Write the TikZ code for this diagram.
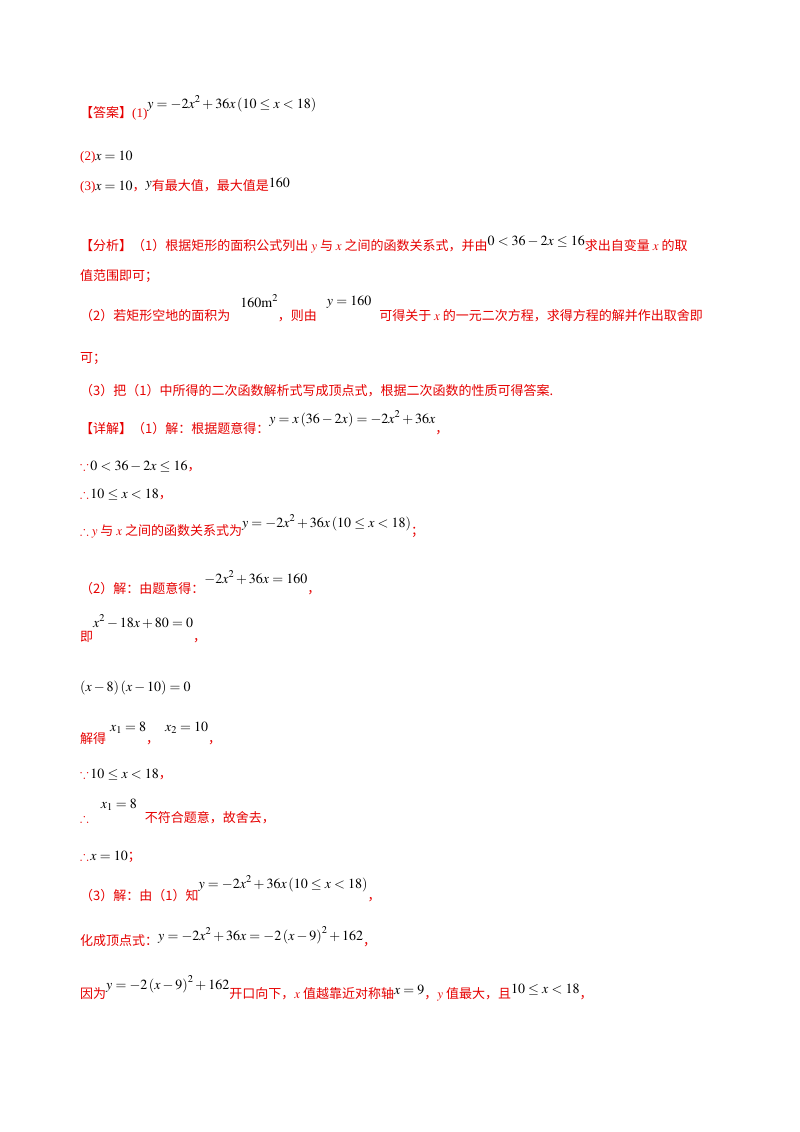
\documentclass[tikz,border=0pt]{standalone}
\usepackage{amssymb}
\usepackage{mathptmx}
\usepackage{fontspec}
\setmainfont{Liberation Serif}
\newfontfamily\cjk{Noto Sans CJK SC}
\definecolor{ansred}{RGB}{230,0,0}
\newcommand{\rd}[1]{\textcolor{ansred}{\cjk #1}}
\newcommand{\up}[2][8pt]{\raisebox{#1}{\fontsize{14}{16}\selectfont$#2$}}
\newcommand{\mth}[1]{{\fontsize{14}{16}\selectfont$#1$}}
\tikzset{ln/.style={anchor=base west,inner sep=0pt,font=\fontsize{13}{15}\selectfont}}
\begin{document}
\begin{tikzpicture}[x=1pt,y=1pt]
\useasboundingbox[fill=white] (0,0) rectangle (800,-1132);
\node[ln] (l1) at (80,-117) {\rd{【答案】}\textcolor{ansred}{(1)}\up[9pt]{y=-2x^2+36x\left(10\le x<18\right)}};
\node[ln] (l2) at (80,-160) {\textcolor{ansred}{(2)}\mth{x=10}};
\node[ln] (l3) at (80,-190) {\textcolor{ansred}{(3)}\mth{x=10}\rd{，}\up[3pt]{y}\rd{有最大值，最大值是}\up[3pt]{160}};
\node[ln] (l4) at (80,-250) {\rd{【分析】（1）根据矩形的面积公式列出 $y$ 与 $x$ 之间的函数关系式，并由}\up[5pt]{0<36-2x\le16}\rd{求出自变量 $x$ 的取}};
\node[ln] (l5) at (80,-280) {\rd{值范围即可；}};
\node[ln] (l6) at (80,-320) {\rd{（2）若矩形空地的面积为}\hspace{10pt}\up[13pt]{160\mathrm{m}^2}\rd{，则由}\hspace{10pt}\up[15pt]{y=160}\hspace{8pt}\rd{可得关于 $x$ 的一元二次方程，求得方程的解并作出取舍即}};
\node[ln] (l7) at (80,-362) {\rd{可；}};
\node[ln] (l8) at (80,-395) {\rd{（3）把（1）中所得的二次函数解析式写成顶点式，根据二次函数的性质可得答案.}};
\node[ln] (l9) at (80,-433) {\rd{【详解】（1）解：根据题意得：}\up[10pt]{y=x\left(36-2x\right)=-2x^2+36x}\rd{，}};
\node[ln] (l10) at (80,-470) {\textcolor{ansred}{$\because$}\mth{\,0<36-2x\le16}\rd{，}};
\node[ln] (l11) at (80,-498) {\textcolor{ansred}{$\therefore$}\mth{\,10\le x<18}\rd{，}};
\node[ln] (l12) at (80,-535) {\rd{$\therefore y$ 与 $x$ 之间的函数关系式为}\up[8pt]{y=-2x^2+36x\left(10\le x<18\right)}\rd{；}};
\node[ln] (l13) at (80,-593) {\rd{（2）解：由题意得：}\up[10pt]{-2x^2+36x=160}\rd{，}};
\node[ln] (l14) at (80,-641) {\rd{即}\up[14pt]{x^2-18x+80=0}\rd{，}};
\node[ln] (l15) at (80,-691) {\mth{\left(x-8\right)\left(x-10\right)=0}};
\node[ln] (l16) at (80,-743) {\rd{解得}\hspace{4pt}\up[12pt]{x_1=8}\rd{，}\hspace{6pt}\up[12pt]{x_2=10}\rd{，}};
\node[ln] (l17) at (80,-778) {\textcolor{ansred}{$\because$}\mth{\,10\le x<18}\rd{，}};
\node[ln] (l18) at (80,-822) {\textcolor{ansred}{$\therefore$}\hspace{12pt}\up[14pt]{x_1=8}\hspace{8pt}\rd{不符合题意，故舍去，}};
\node[ln] (l19) at (80,-860) {\textcolor{ansred}{$\therefore$}\mth{\,x=10}\rd{；}};
\node[ln] (l20) at (80,-900) {\rd{（3）解：由（1）知}\up[12pt]{y=-2x^2+36x\left(10\le x<18\right)}\rd{，}};
\node[ln] (l21) at (80,-945) {\rd{化成顶点式：}\up[5pt]{y=-2x^2+36x=-2\left(x-9\right)^2+162}\rd{，}};
\node[ln] (l22) at (80,-998) {\rd{因为}\up[9pt]{y=-2\left(x-9\right)^2+162}\rd{开口向下，$x$ 值越靠近对称轴}\up[4pt]{x=9}\rd{，$y$ 值最大，且}\up[5pt]{10\le x<18}\rd{，}};
\end{tikzpicture}
\end{document}
